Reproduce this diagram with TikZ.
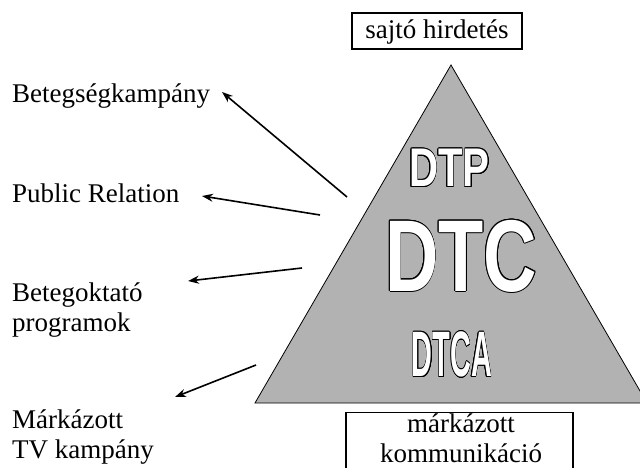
\documentclass[tikz,border=0pt]{standalone}
\usepackage{fontspec}
\setmainfont{Liberation Serif}
\newfontfamily\dtfont{Liberation Sans}
\usepackage{contour}
\contourlength{0.9pt}
\usetikzlibrary{arrows.meta}
\definecolor{triGray}{RGB}{178,178,178}
\begin{document}
\begin{tikzpicture}[x=1pt,y=-1pt,
  lbl/.style={font=\fontsize{27}{30}\selectfont, inner sep=0pt, anchor=base west, align=left},
  box/.style={draw, line width=1.2pt, inner sep=0pt},
  arr/.style={line width=1.6pt, -{Stealth[length=11pt,width=8pt]}},
  big/.style={text=white, inner sep=0pt, font=\dtfont\bfseries}]
\clip (0,0) rectangle (640,468);
\fill[white] (0,0) rectangle (640,468);
% pyramid
\draw[fill=triGray, line width=0.8pt] (451,65) -- (255,403) -- (647,403) -- cycle;
\node[big] (dtp) at (449.5,168.5) {\scalebox{0.74}[1]{\fontsize{54.5}{60}\selectfont\contour{black}{DTP}}};
\node[big] (dtc) at (461,256.5) {\scalebox{0.725}[1]{\fontsize{102}{110}\selectfont\contour{black}{DTC}}};
\node[big] (dtca) at (452,355) {\scalebox{0.45}[1]{\fontsize{64.2}{70}\selectfont\contour{black}{DTCA}}};
% boxes
\node[box, minimum width=170, minimum height=36, text height=20, text depth=4, font=\fontsize{27}{30}\selectfont] (press) at (437,31) {sajtó hirdetés};
\node[box, minimum width=227, minimum height=90, anchor=north] (brandbox) at (459.5,412) {};
\node[lbl, anchor=base, align=center] (brand) at (461,462) {márkázott\\kommunikáció};
% left labels
\node[lbl] (disease) at (12,103) {Betegségkampány};
\node[lbl] (pr) at (12,202) {Public Relation};
\node[lbl] (edu) at (12,331) {Betegoktató\\programok};
\node[lbl] (tv) at (12,458) {Márkázott\\TV kampány};
% arrows
\coordinate (t1) at (347,197); \coordinate (h1) at (222,92);
\coordinate (t2) at (320,215); \coordinate (h2) at (202,196);
\coordinate (t3) at (302,268); \coordinate (h3) at (188,281);
\coordinate (t4) at (256,365); \coordinate (h4) at (175,397);
\draw[arr] (t1) -- (h1);
\draw[arr] (t2) -- (h2);
\draw[arr] (t3) -- (h3);
\draw[arr] (t4) -- (h4);
\end{tikzpicture}
\end{document}
